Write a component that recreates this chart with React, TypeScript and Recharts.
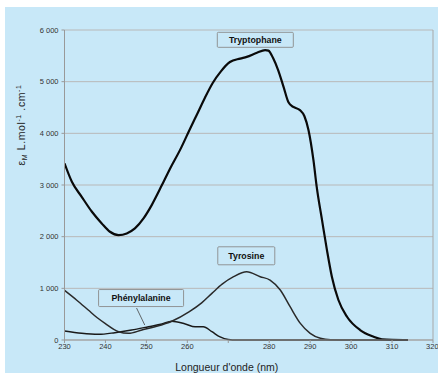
import React from 'react';
import { LineChart, Line, XAxis, YAxis, CartesianGrid, ReferenceDot, ReferenceLine, Label } from 'recharts';

// Tryptophane
const trpNm = [230, 231.8, 234.2, 236.7, 239.1, 241.1, 243.2, 245.2, 247.2, 249.3, 251.3, 253.8, 255.8, 258.2, 260.7, 262.5, 264.3, 266.2, 268.2, 270.4, 272.9, 274.5, 277.0, 279.0, 279.8, 281.0, 282.2, 283.5, 284.7, 285.9, 287.5, 288.6, 289.6, 290.8, 291.6, 292.9, 294.1, 295.3, 296.9, 299.0, 302.2, 305.5, 307.5, 310, 313.9];
const trpEps = [3420, 3062, 2772, 2482, 2257, 2095, 2031, 2063, 2160, 2354, 2611, 2998, 3321, 3675, 4095, 4390, 4690, 4975, 5200, 5380, 5447, 5480, 5560, 5610, 5600, 5447, 5220, 4900, 4600, 4510, 4450, 4330, 4060, 3480, 2965, 2320, 1740, 1225, 774, 450, 193, 64, 14, 3, 0];

// Tyrosine
const tyrNm = [230, 233, 235.8, 238, 239.9, 243.2, 245.6, 248.9, 252.1, 256.2, 260.5, 263.5, 266.0, 268.5, 271.3, 274.5, 277.8, 280.2, 282.7, 285.1, 287.6, 290.0, 292.5, 295, 300, 310, 313.9];
const tyrEps = [960, 770, 580, 430, 322, 161, 129, 193, 257, 364, 550, 720, 903, 1080, 1225, 1321, 1225, 1160, 967, 644, 322, 129, 33, 5, 0, 0, 0];

// Phénylalanine
const pheNm = [230, 234.2, 238.3, 242.3, 246.4, 250.5, 253.8, 256.2, 259.5, 261.9, 263.9, 266.0, 268, 270, 272, 280, 300, 313.9];
const pheEps = [174, 129, 110, 142, 193, 257, 310, 364, 310, 257, 257, 161, 60, 10, 0, 0, 0, 0];

const xTicks = [230, 240, 250, 260, 270, 280, 290, 300, 310, 320];
const xTickLabels = ['230', '240', '250', '260', '', '280', '290', '300', '310', '320'];
const yTicks = [0, 1000, 2000, 3000, 4000, 5000, 6000];
const yTickLabels = ['0', '1 000', '2 000', '3 000', '4 000', '5 000', '6 000'];

// Annotations (data coordinates)
const seriesNames = ['Tryptophane', 'Tyrosine', 'Phénylalanine'];
const labelNm = [276.6, 274.4, 248.7];
const labelEps = [5810, 1630, 812];
const pointerNm = [247.6, 249.6];
const pointerEps = [619, 290];

const trpData = trpNm.map((x, i) => ({ nm: x, v: trpEps[i] }));
const tyrData = tyrNm.map((x, i) => ({ nm: x, v: tyrEps[i] }));
const pheData = pheNm.map((x, i) => ({ nm: x, v: pheEps[i] }));

const BG = '#c8e8f8';
const FONT = '"Liberation Sans", Arial, sans-serif';

const boxSizes = [[76, 15], [57, 18], [85, 17]];

const makeBox = (idx: number) => (props: any) => {
  const { cx, cy } = props;
  const [w, h] = boxSizes[idx];
  return (
    <g>
      <rect x={cx - w / 2} y={cy - h / 2} width={w} height={h} fill={BG} stroke="#8a8a8a" strokeWidth={0.9} rx={1} />
      <text x={cx} y={cy + 3.2} textAnchor="middle" fontSize={8.8} fontWeight="bold" fontFamily={FONT} fill="#111">
        {seriesNames[idx]}
      </text>
    </g>
  );
};

const YLabel = () => {
  const x = 25;
  const y = 125;
  return (
    <text x={x} y={y} transform={`rotate(-90 ${x} ${y})`} textAnchor="middle" fontSize={10.5} fontFamily={FONT} fill="#222" letterSpacing={0.6}>
      ε<tspan fontSize={7} dy={2}>M</tspan>
      <tspan dy={-2}> L.mol</tspan>
      <tspan fontSize={7} dy={-4}>-1</tspan>
      <tspan dy={4}> .cm</tspan>
      <tspan fontSize={7} dy={-4}>-1</tspan>
    </text>
  );
};

export default function App() {
  return (
    <div style={{ position: 'absolute', left: 0, top: 0, width: 438, height: 373, background: '#ffffff' }}>
      <div style={{ position: 'absolute', left: 5, top: 7, width: 433, height: 366, background: BG }} />
      <div style={{ position: 'absolute', left: 0, top: 0 }}>
        <LineChart width={438} height={373} data={trpData} margin={{ top: 30, right: 5, left: 0, bottom: 0 }}>
          <CartesianGrid vertical={false} stroke="#b8b8b8" strokeWidth={1} />
          <XAxis
            dataKey="nm"
            type="number"
            domain={[230, 320]}
            ticks={xTicks}
            allowDataOverflow
            height={33}
            stroke="#999"
            tickSize={3}
            tickMargin={1}
            tick={{ fontSize: 7.5, fill: '#333', fontFamily: FONT }}
            tickFormatter={(v: number) => xTickLabels[xTicks.indexOf(v)] ?? ''}
          >
            <Label value="Longueur d'onde (nm)" position="insideBottom" offset={2} dx={-22} fontSize={10.5} fill="#222" fontFamily={FONT} />
          </XAxis>
          <YAxis
            type="number"
            domain={[0, 6000]}
            ticks={yTicks}
            width={64.5}
            stroke="#999"
            tickSize={3}
            tickMargin={3}
            tick={{ fontSize: 7.5, fill: '#333', fontFamily: FONT }}
            tickFormatter={(v: number) => yTickLabels[yTicks.indexOf(v)] ?? ''}
          >
            <Label content={<YLabel />} />
          </YAxis>
          <ReferenceLine x={320} stroke="#a8a8a8" strokeWidth={1} />
          <Line data={pheData} dataKey="v" type="monotone" stroke="#1a1a1a" strokeWidth={1.5} dot={false} isAnimationActive={false} />
          <Line data={tyrData} dataKey="v" type="monotone" stroke="#2a2a2a" strokeWidth={1.5} dot={false} isAnimationActive={false} />
          <Line data={trpData} dataKey="v" type="monotone" stroke="#0a0a0a" strokeWidth={2.2} dot={false} isAnimationActive={false} />
          <ReferenceLine
            segment={[{ x: pointerNm[0], y: pointerEps[0] }, { x: pointerNm[1], y: pointerEps[1] }]}
            stroke="#444"
            strokeWidth={0.8}
            ifOverflow="visible"
          />
          {labelNm.map((x, i) => (
            <ReferenceDot key={i} x={x} y={labelEps[i]} r={0} ifOverflow="visible" shape={makeBox(i)} />
          ))}
        </LineChart>
      </div>
    </div>
  );
}
